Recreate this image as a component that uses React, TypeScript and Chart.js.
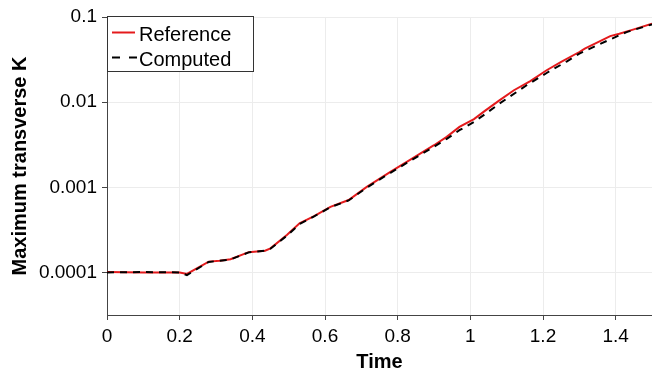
import React, { useEffect, useRef } from "react";
import { Chart, registerables } from "chart.js";

Chart.register(...registerables);

const refTime = [0, 0.1, 0.2, 0.22, 0.28, 0.31, 0.34, 0.39, 0.435, 0.45, 0.495, 0.53, 0.57, 0.615, 0.665, 0.715, 0.78, 0.825, 0.9, 0.935, 0.97, 1.01, 1.04, 1.08, 1.12, 1.165, 1.21, 1.25, 1.3, 1.315, 1.385, 1.41, 1.45, 1.5];
const refValue = [1.01e-4, 1.0e-4, 1.0e-4, 9.6e-5, 1.34e-4, 1.37e-4, 1.43e-4, 1.73e-4, 1.8e-4, 1.92e-4, 2.75e-4, 3.78e-4, 4.59e-4, 5.9e-4, 7.08e-4, 1.01e-3, 1.52e-3, 1.99e-3, 3.12e-3, 3.91e-3, 5.12e-3, 6.31e-3, 7.89e-3, 1.05e-2, 1.38e-2, 1.77e-2, 2.37e-2, 2.98e-2, 3.88e-2, 4.25e-2, 5.97e-2, 6.37e-2, 7.16e-2, 8.34e-2];

const compTime = [0, 0.1, 0.2, 0.22, 0.28, 0.31, 0.34, 0.39, 0.435, 0.45, 0.495, 0.53, 0.57, 0.615, 0.665, 0.715, 0.78, 0.825, 0.9, 0.935, 0.97, 1.01, 1.04, 1.08, 1.155, 1.21, 1.265, 1.3, 1.385, 1.43, 1.5];
const compValue = [1.0e-4, 1.01e-4, 1.0e-4, 9.3e-5, 1.33e-4, 1.37e-4, 1.42e-4, 1.72e-4, 1.8e-4, 1.9e-4, 2.7e-4, 3.7e-4, 4.55e-4, 5.85e-4, 7.0e-4, 9.9e-4, 1.48e-3, 1.93e-3, 3.0e-3, 3.7e-3, 4.68e-3, 5.86e-3, 7.2e-3, 9.6e-3, 1.58e-2, 2.2e-2, 3.0e-2, 3.72e-2, 5.46e-2, 6.65e-2, 8.2e-2];

const xTickValues = [0, 0.2, 0.4, 0.6, 0.8, 1, 1.2, 1.4];
const xTickLabels = ["0", "0.2", "0.4", "0.6", "0.8", "1", "1.2", "1.4"];
const yTickValues = [1e-4, 1e-3, 1e-2, 1e-1];
const yTickLabels = ["0.0001", "0.001", "0.01", "0.1"];

const seriesNames = ["Reference", "Computed"];

const FONT = "'Liberation Sans', Arial, Helvetica, sans-serif";
const RED = "#e41a1c";

export default function App() {
  const canvasRef = useRef<HTMLCanvasElement>(null);

  useEffect(() => {
    document.body.style.margin = "0";
    const legendPlugin = {
      id: "boxLegend",
      afterDatasetsDraw(chart: any) {
        const ctx = chart.ctx;
        const a = chart.chartArea;
        const x0 = a.left;
        const y0 = a.top;
        const w = 146;
        const h = 55;
        ctx.save();
        ctx.fillStyle = "#fff";
        ctx.fillRect(x0, y0, w, h);
        ctx.strokeStyle = "#333";
        ctx.lineWidth = 1;
        ctx.strokeRect(x0 + 0.5, y0 - 0.5, w, h);
        ctx.font = `20px ${FONT}`;
        ctx.textBaseline = "middle";
        ctx.fillStyle = "#000";
        const ds = chart.data.datasets;
        const rows = [y0 + 18.5, y0 + 43.5];
        const lineEnds = [x0 + 28, x0 + 30];
        ds.forEach((d: any, i: number) => {
          const yy = rows[i];
          ctx.beginPath();
          ctx.strokeStyle = d.borderColor;
          ctx.lineWidth = 2;
          ctx.setLineDash(d.borderDash ? [8, 9] : []);
          ctx.moveTo(x0 + 5, yy - 3);
          ctx.lineTo(lineEnds[i], yy - 3);
          ctx.stroke();
          ctx.setLineDash([]);
          ctx.fillText(d.label, x0 + 32, yy);
        });
        ctx.restore();
      },
    };

    const chart = new Chart(canvasRef.current as HTMLCanvasElement, {
      type: "line",
      data: {
        datasets: [
          {
            label: seriesNames[0],
            data: refTime.map((x, i) => ({ x, y: refValue[i] })),
            borderColor: RED,
            borderWidth: 2,
            pointRadius: 0,
            tension: 0,
            fill: false,
            order: 2,
          },
          {
            label: seriesNames[1],
            data: compTime.map((x, i) => ({ x, y: compValue[i] })),
            borderColor: "#000",
            borderWidth: 2,
            borderDash: [7, 6],
            pointRadius: 0,
            tension: 0,
            fill: false,
            order: 1,
          },
        ],
      },
      options: {
        animation: false,
        responsive: false,
        maintainAspectRatio: false,
        layout: { padding: { top: 17, right: 0, left: 0, bottom: 0 } },
        plugins: { legend: { display: false }, tooltip: { enabled: false } },
        scales: {
          x: {
            type: "linear",
            min: 0,
            max: 1.5,
            afterBuildTicks: (s: any) => {
              s.ticks = xTickValues.map((v) => ({ value: v }));
            },
            afterFit: (s: any) => {
              s.height = 59;
            },
            ticks: {
              callback: (_v: any, i: number) => xTickLabels[i],
              font: { size: 19, family: FONT },
              color: "#000",
              padding: 5,
              maxRotation: 0,
              autoSkip: false,
            },
            grid: { color: "#ececec", tickColor: "#444", tickLength: 5, lineWidth: 1 },
            border: { color: "#444", width: 1 },
            title: {
              display: true,
              text: "Time",
              font: { size: 20, weight: "bold", family: FONT, lineHeight: 1 },
              color: "#000",
              padding: { top: 0, bottom: 2 },
            },
          },
          y: {
            type: "logarithmic",
            min: Math.pow(10, -4.5),
            max: 0.1,
            afterBuildTicks: (s: any) => {
              s.ticks = yTickValues.map((v) => ({ value: v }));
            },
            afterFit: (s: any) => {
              s.width = 107;
            },
            ticks: {
              callback: (_v: any, i: number) => yTickLabels[i],
              font: { size: 19, family: FONT },
              color: "#000",
              padding: 5,
              autoSkip: false,
            },
            grid: { color: "#ececec", tickColor: "#444", tickLength: 5, lineWidth: 1 },
            border: { color: "#444", width: 1 },
            title: {
              display: true,
              text: "Maximum transverse K",
              font: { size: 20, weight: "bold", family: FONT, lineHeight: 1.2 },
              color: "#000",
              padding: { top: 8, bottom: 0 },
            },
          },
        },
      },
      plugins: [legendPlugin],
    } as any);
    return () => chart.destroy();
  }, []);

  return (
    <div style={{ position: "fixed", left: 0, top: 0, width: 652, height: 374 }}>
      <canvas ref={canvasRef} width={652} height={374} style={{ width: 652, height: 374 }} />
    </div>
  );
}
